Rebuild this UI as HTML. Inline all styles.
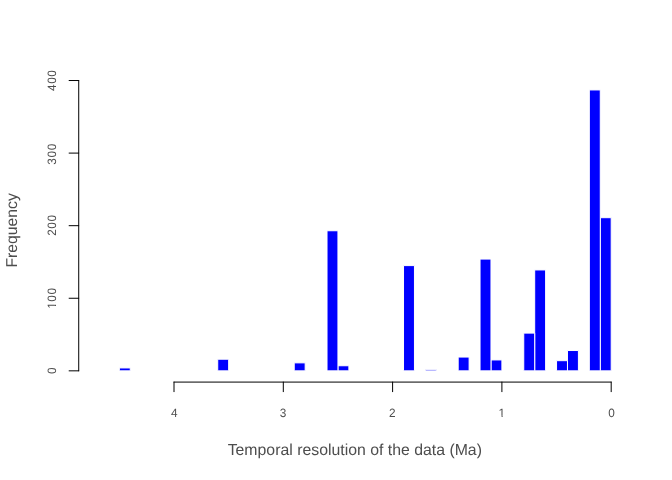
<!DOCTYPE html>
<html><head><meta charset="utf-8"><title>Histogram</title><style>
html,body{margin:0;padding:0;background:#fff;width:672px;height:480px;overflow:hidden}
svg{display:block;font-family:"Liberation Sans",sans-serif;will-change:transform;text-rendering:geometricPrecision}
text{fill:#4d4d4d}
path{stroke-linecap:round;stroke-linejoin:round;stroke-width:1px}
rect{stroke-linejoin:round}
</style></head><body>
<svg width="672" height="480" viewBox="0 0 672 480">
<rect width="672" height="480" fill="#fff"/>
<defs><clipPath id="c1" clipPathUnits="userSpaceOnUse"><rect x="-40" y="-30" width="80" height="29.118"/><rect x="-0.314" y="-2" width="1.043" height="4"/><rect x="3.281" y="-2" width="40" height="4"/></clipPath><clipPath id="c100" clipPathUnits="userSpaceOnUse"><rect x="-40" y="-30" width="80" height="29.118"/><rect x="-7.777" y="-2" width="1.043" height="4"/><rect x="-4.181" y="-2" width="40" height="4"/></clipPath></defs>
<rect x="600.27" y="217.69" width="10.93" height="153.15" fill="#00f" stroke="#fff"/>
<rect x="589.34" y="89.95" width="10.93" height="280.89" fill="#00f" stroke="#fff"/>
<rect x="567.48" y="350.52" width="10.93" height="20.32" fill="#00f" stroke="#fff"/>
<rect x="556.55" y="360.68" width="10.93" height="10.16" fill="#00f" stroke="#fff"/>
<rect x="534.69" y="269.95" width="10.93" height="100.89" fill="#00f" stroke="#fff"/>
<rect x="523.76" y="333.10" width="10.93" height="37.74" fill="#00f" stroke="#fff"/>
<rect x="490.97" y="359.95" width="10.93" height="10.89" fill="#00f" stroke="#fff"/>
<rect x="480.04" y="259.07" width="10.93" height="111.77" fill="#00f" stroke="#fff"/>
<rect x="458.18" y="357.05" width="10.93" height="13.79" fill="#00f" stroke="#fff"/>
<rect x="425.39" y="369.39" width="10.93" height="1.45" fill="#00f" stroke="#fff"/>
<rect x="403.53" y="265.60" width="10.93" height="105.24" fill="#00f" stroke="#fff"/>
<rect x="337.95" y="365.76" width="10.93" height="5.08" fill="#00f" stroke="#fff"/>
<rect x="327.02" y="230.76" width="10.93" height="140.08" fill="#00f" stroke="#fff"/>
<rect x="294.23" y="362.86" width="10.93" height="7.98" fill="#00f" stroke="#fff"/>
<rect x="217.72" y="359.23" width="10.93" height="11.61" fill="#00f" stroke="#fff"/>
<rect x="119.35" y="367.94" width="10.93" height="2.90" fill="#00f" stroke="#fff"/>
<path d="M78.72 370.84V80.52" stroke="#000" fill="none"/>
<path d="M78.72 370.84H69.12" stroke="#000"/>
<path d="M78.72 298.26H69.12" stroke="#000"/>
<path d="M78.72 225.68H69.12" stroke="#000"/>
<path d="M78.72 153.10H69.12" stroke="#000"/>
<path d="M78.72 80.52H69.12" stroke="#000"/>
<path d="M174.00 382.08H611.20" stroke="#000" fill="none"/>
<path d="M611.20 382.08V391.68" stroke="#000"/>
<path d="M501.90 382.08V391.68" stroke="#000"/>
<path d="M392.60 382.08V391.68" stroke="#000"/>
<path d="M283.30 382.08V391.68" stroke="#000"/>
<path d="M174.00 382.08V391.68" stroke="#000"/>
<text transform="translate(611.45,416.6) scale(1,1.025)" font-size="11.8" text-anchor="middle">0</text>
<text transform="translate(501.90,416.6) scale(1,1.025)" font-size="11.8" text-anchor="middle" clip-path="url(#c1)">1</text>
<text transform="translate(392.30,416.6) scale(1,1.025)" font-size="11.8" text-anchor="middle">2</text>
<text transform="translate(283.10,416.6) scale(1,1.025)" font-size="11.8" text-anchor="middle">3</text>
<text transform="translate(174.30,416.6) scale(1,1.025)" font-size="11.8" text-anchor="middle">4</text>
<text transform="translate(55.6,370.65) rotate(-90) scale(1,1.025)" font-size="11.8" text-anchor="middle">0</text>
<text transform="translate(55.6,298.10) rotate(-90) scale(1,1.025)" font-size="11.8" text-anchor="middle" letter-spacing="0.6" clip-path="url(#c100)">100</text>
<text transform="translate(55.6,225.10) rotate(-90) scale(1,1.025)" font-size="11.8" text-anchor="middle" letter-spacing="0.6">200</text>
<text transform="translate(55.6,153.90) rotate(-90) scale(1,1.025)" font-size="11.8" text-anchor="middle" letter-spacing="0.6">300</text>
<text transform="translate(55.6,80.30) rotate(-90) scale(1,1.025)" font-size="11.8" text-anchor="middle" letter-spacing="0.6">400</text>
<text x="354.8" y="455" font-size="15.83" text-anchor="middle">Temporal resolution of the data (Ma)</text>
<text transform="translate(16.6,230.4) rotate(-90)" font-size="15.75" text-anchor="middle">Frequency</text>
</svg>
</body></html>
